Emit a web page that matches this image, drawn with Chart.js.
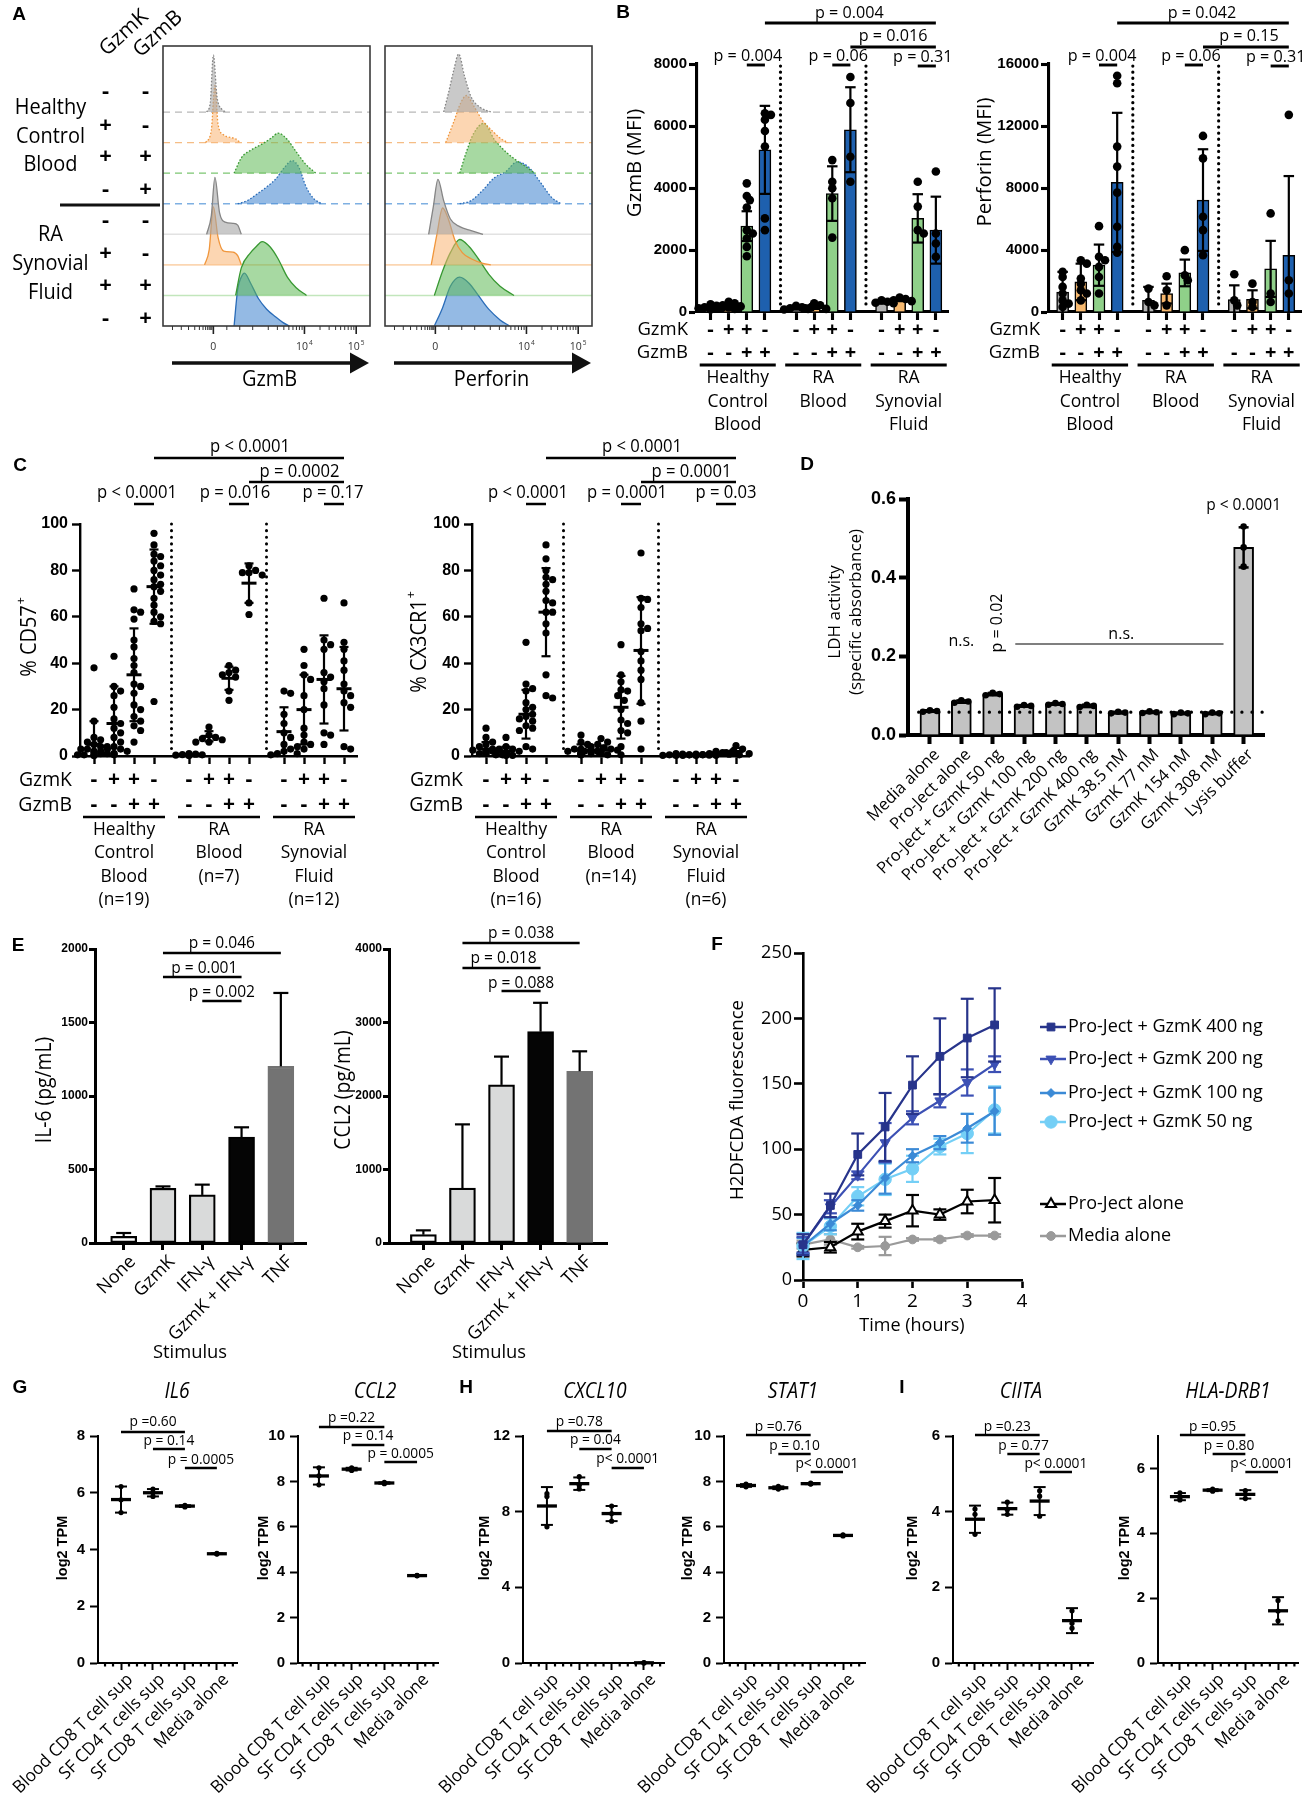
<!DOCTYPE html>
<html><head><meta charset="utf-8">
<script src="https://cdn.jsdelivr.net/npm/chart.js@4.4.1/dist/chart.umd.min.js"></script>
<style>
html,body{margin:0;padding:0;background:#fff}
body{position:relative;width:1307px;height:1800px;overflow:hidden}
canvas{position:absolute}
</style></head><body>
<script>
// ================= DATA =================
// ---- Panel A (flow histograms; x in display decades, h in row heights) ----
const A_GZMK = ['-','+','+','-','-','+','+','-'];
const A_GZMB = ['-','-','+','+','-','-','+','+'];
const A_COLS = ['GzmK','GzmB'];
const A_ROW_LABELS = [['Healthy','Control','Blood'],['RA','Synovial','Fluid']];
const A_AXES = ['GzmB','Perforin'];
const A_TICK_U = [2.24, 4, 5];
const A_TICK_LBL = [['0',''],['10','4'],['10','5']];
const A_GZMB_U = [
 [2.11,2.18,2.24,2.31,2.40,2.49],
 [2.09,2.20,2.27,2.33,2.44,2.67,2.76],
 [2.64,2.78,2.96,3.18,3.36,3.49,3.67,3.84,4.02,4.22],
 [2.71,2.89,3.11,3.27,3.44,3.62,3.76,3.89,4.02,4.16,4.33],
 [2.11,2.20,2.27,2.36,2.47,2.62,2.71,2.78],
 [2.07,2.16,2.24,2.33,2.44,2.62,2.71,2.78],
 [2.67,2.78,2.96,3.07,3.18,3.33,3.49,3.67,3.84,4.04],
 [2.64,2.71,2.78,2.84,2.96,3.11,3.27,3.44,3.58,3.71]];
const A_GZMB_H = [
 [0,0.3,1.86,0.5,0.1,0],
 [0,0.4,1.86,0.6,0.25,0.12,0],
 [0,0.5,0.75,0.95,1.15,1.31,1.1,0.7,0.3,0],
 [0,0.1,0.35,0.55,0.8,1.2,1.41,1.2,0.6,0.2,0],
 [0,0.6,1.86,0.7,0.4,0.36,0.3,0],
 [0,0.5,1.9,0.9,0.45,0.42,0.3,0],
 [0,0.9,1.4,1.6,1.76,1.6,1.2,0.6,0.25,0],
 [0,1.2,1.6,1.73,1.4,0.9,0.55,0.3,0.12,0]];
const A_PRF_U = [
 [2.40,2.49,2.60,2.69,2.80,2.93,3.11,3.31],
 [2.44,2.60,2.73,2.84,2.98,3.16,3.33,3.49,3.64],
 [2.71,2.84,2.98,3.18,3.38,3.60,3.82,4.00,4.16],
 [2.71,2.93,3.16,3.38,3.60,3.82,4.04,4.27,4.49,4.67],
 [2.11,2.20,2.29,2.40,2.53,2.71,2.93,3.16],
 [2.16,2.27,2.38,2.49,2.62,2.76,2.93,3.16,3.31],
 [2.22,2.38,2.53,2.71,2.89,3.07,3.27,3.49,3.76],
 [2.22,2.38,2.53,2.71,2.89,3.07,3.27,3.49,3.67]];
const A_PRF_H = [
 [0,0.6,1.4,1.9,1.2,0.5,0.15,0],
 [0,0.7,1.3,1.54,1.2,0.7,0.4,0.15,0],
 [0,0.7,1.3,1.63,1.1,0.7,0.4,0.2,0],
 [0,0.1,0.45,0.85,1.05,1.37,1.2,0.7,0.2,0],
 [0,0.9,1.8,1.1,0.5,0.25,0.12,0],
 [0,1.0,1.86,1.5,0.8,0.4,0.2,0.05,0],
 [0,0.8,1.4,1.83,1.6,1.2,0.7,0.3,0],
 [0,0.6,1.3,1.6,1.4,1.0,0.55,0.2,0]];

// ---- Panel B ----
const B_GROUPS = [['Healthy','Control','Blood'],['RA','Blood'],['RA','Synovial','Fluid']];
const GZMK_SIGNS = ['-','+','+','-'];
const GZMB_SIGNS = ['-','-','+','+'];
const ROW_NAMES = ['GzmK','GzmB'];
const B_GZMB_MEAN = [[150,200,2770,5230],[130,170,3820,5880],[330,400,3020,2640]];
const B_GZMB_SD = [[60,80,480,1420],[50,70,880,1370],[60,50,780,1080]];
const B_GZMB_PTS = [
 [[250,200,150,120,100,80,150],[330,280,220,180,150,120,100],[4150,3740,3610,3370,2640,2530,2370,2100,1800],[6410,6360,6200,5840,5340,3020,2640]],
 [[200,150,120,100,80],[280,220,150,120,100],[4900,4200,3990,3670,2400],[7580,6740,5010,4200]],
 [[380,330,300,280],[470,420,380,350],[4200,3400,2640,2530],[4530,2530,2210,1780]]];
const B_PRF_MEAN = [[1290,1940,3020,8360],[750,1190,2520,7220],[800,820,2780,3660]];
const B_PRF_SD = [[1300,1180,1330,4490],[870,640,860,3280],[920,580,1810,5110]];
const B_PRF_PTS = [
 [[2590,2260,1620,1190,750,540,320],[3340,3120,2160,1830,1400,1190,750],[5540,3560,3340,2910,2260,1190],[15240,14760,10670,9380,7700,5500,4200,3820]],
 [[1510,650,430],[2310,1400,430],[3990,2370,2050],[11360,9910,6140,5280,3660]],
 [[2440,750,430],[1830,650,320],[6360,1190,650],[12720,2050,1190]]];
const B_PAIRS = [[[0,3],[2,3]],[[1,3],[2,3]],[[0,2],[0,3]],[[1,2],[1,3]],[[2,2],[2,3]]];
const B_GZMB_PV = ['p = 0.004','p = 0.016','p = 0.004','p = 0.06','p = 0.31'];
const B_PRF_PV = ['p = 0.042','p = 0.15','p = 0.004','p = 0.06','p = 0.31'];

// ---- Panel C ----
const C_CD57_GROUPS = [['Healthy','Control','Blood','(n=19)'],['RA','Blood','(n=7)'],['RA','Synovial','Fluid','(n=12)']];
const C_CX_GROUPS = [['Healthy','Control','Blood','(n=16)'],['RA','Blood','(n=14)'],['RA','Synovial','Fluid','(n=6)']];
const C_CD57_PTS = [
 [[38,15,8,7,6,5,4,4,3,3,2,2,1,1,1,0.5,0.5,0.3,0.2],
  [43,30,28,26,21,16,14,12,10,8,6,4,3,3,2,2,1,1,0.5],
  [72,63,62,59,50,47,42,39,36,31,30,27,22,20,17,15,13,11,6],
  [96,91,87,86,84,82,80,78,76,74,73,71,68,65,62,60,58,57,23.5]],
 [[1,0.5,0.8,0.3,0.6,0.2,0.4],[12.5,9,8,7.5,7,6,6],[39,37,36,35,34,28,24],[82,80,79,79,78,66,61]],
 [[28,27,18,14,10,8,5,3,2,1,1,0.5],[46,39,35,33,26,20,12,9,6,4,3,5],[68,50,48,46,36,34,32,29,22,10,9,5],[66,49,46,41,37,31,28,26,23,21,4,3]]];
const C_CD57_MEAN = [[5,14,35,73],[0.5,8.5,33.5,74.5],[10.5,20,33,29]];
const C_CD57_SD = [[10,16,20,16],[0.3,2.2,5,8.5],[10.5,15,19,18]];
const C_CX_PTS = [
 [[12,8,6,5,4,3,3,2,2,1.5,1,1,0.5,0.5,2.5,1],
  [8,4,3,2.5,2,1.5,1.2,1,0.8,0.5,2,1.5,1,0.5,0.3,0.2],
  [49,31,29,28,23,21,18,17,15,13,12,11,4,3,16,20],
  [91,85,77,76,74,71,67,66,62,62,57,53,35,26,25,80]],
 [[9,6,5,3,3,2.5,2,2,1.5,1,1,0.5,0.5,1],
  [7.5,6,5,4,3.5,3,2.5,2,1.5,1,1,0.5,2,1.5],
  [48,35,32,28.5,28,24,20,14,11,10,4,0.5,26,15.5],
  [87.5,68,67.5,64,57,55,54,45,41,37,33,23,15,3]],
 [[1,0.5,0.3,0.8,0.2,0.5],[0.5,0.3,0.8,0.2,0.6,0.4],[2,1.5,1,0.5,0.8,0.3],[4.5,3,2,1.5,1,0.5]]];
const C_CX_MEAN = [[3,2,18,62],[2.5,2.5,21,45.5],[0.5,0.5,1,2]];
const C_CX_SD = [[3,2,10.5,19],[2.5,2,13.5,23],[0.3,0.2,0.6,1.5]];
const C_CD57_PV = ['p < 0.0001','p = 0.0002','p < 0.0001','p = 0.016','p = 0.17'];
const C_CX_PV = ['p < 0.0001','p = 0.0001','p < 0.0001','p = 0.0001','p = 0.03'];

// ---- Panel D ----
const D_CATS = ['Media alone','Pro-Ject alone','Pro-Ject + GzmK 50 ng','Pro-Ject + GzmK 100 ng','Pro-Ject + GzmK 200 ng','Pro-Ject + GzmK 400 ng','GzmK 38.5 nM','GzmK 77 nM','GzmK 154 nM','GzmK 308 nM','Lysis buffer'];
const D_MEAN = [0.061,0.085,0.104,0.074,0.079,0.074,0.057,0.058,0.055,0.055,0.477];
const D_SD = [0.002,0.003,0.003,0.002,0.002,0.003,0.002,0.002,0.002,0.002,0.051];
const D_PTS = [[0.059,0.061,0.063],[0.082,0.085,0.088],[0.101,0.104,0.107],[0.072,0.074,0.076],[0.077,0.079,0.081],[0.071,0.074,0.077],[0.055,0.057,0.059],[0.056,0.058,0.060],[0.053,0.055,0.057],[0.053,0.055,0.057],[0.428,0.477,0.530]];
const D_BASE = 0.058;
const D_TEXT = ['n.s.','p = 0.02','n.s.','p < 0.0001'];

// ---- Panel E ----
const E_CATS = ['None','GzmK','IFN-\u03b3','GzmK + IFN-\u03b3','TNF'];
const E_IL6 = [45,372,327,721,1202];
const E_IL6_ERR = [23,13,70,66,499];
const E_CCL2 = [113,746,2151,2875,2337];
const E_CCL2_ERR = [59,868,385,393,271];
const E_PAIRS = [[1,4],[1,3],[2,3]];
const E_IL6_PV = ['p = 0.046','p = 0.001','p = 0.002'];
const E_CCL2_PV = ['p = 0.038','p = 0.018','p = 0.088'];

// ---- Panel F ----
const F_T = [0,0.5,1,1.5,2,2.5,3,3.5];
const F_NAMES = ['Pro-Ject + GzmK 400 ng','Pro-Ject + GzmK 200 ng','Pro-Ject + GzmK 100 ng','Pro-Ject + GzmK 50 ng','Pro-Ject alone','Media alone'];
const F_400 = [27,57,96,117,149,171,185,195];
const F_400_SD = [8,9,16,26,22,29,30,28];
const F_200 = [27,56,80,105,124,137,151,165];
const F_200_SD = [6,5,3,15,5,5,10,6];
const F_100 = [26,43,57,78,95,105,116,129];
const F_100_SD = [6,5,4,12,5,5,11,18];
const F_50 = [26,41,64,77,85,102,112,130];
const F_50_SD = [10,6,7,12,10,6,15,18];
const F_PRO = [23,25,37,45,53,50,60,61];
const F_PRO_SD = [5,4,6,5,12,4,9,17];
const F_MED = [27,31,25,26,31,31,34,34];
const F_MED_SD = [3,4,1,7,1,1,1,1];

// ---- Panels G-I ----
const G_CATS = ['Blood CD8 T cell sup','SF CD4 T cells sup','SF CD8 T cells sup','Media alone'];
const G_PAIRS = [[0,2],[1,2],[2,3]];
const IL6_PTS = [[6.22,5.75,5.3],[6.13,6.0,5.87],[5.56,5.53,5.5],[3.86,3.85,3.84]];
const IL6_MEAN = [5.76,6.0,5.53,3.85], IL6_SD = [0.46,0.13,0.03,0.01];
const IL6_PV = ['p =0.60','p = 0.14','p = 0.0005'];
const CCL2_PTS = [[8.6,8.25,7.85],[8.6,8.55,8.48],[7.96,7.93,7.9],[3.86,3.85,3.84]];
const CCL2_MEAN = [8.24,8.54,7.93,3.85], CCL2_SD = [0.38,0.06,0.03,0.01];
const CCL2_PV = ['p =0.22','p = 0.14','p = 0.0005'];
const CXCL10_PTS = [[8.95,8.8,7.2],[9.85,9.4,9.2],[8.3,7.9,7.5],[0.02,0.0,0.01]];
const CXCL10_MEAN = [8.3,9.48,7.9,0.01], CXCL10_SD = [1.0,0.33,0.4,0.01];
const CXCL10_PV = ['p =0.78','p = 0.04','p< 0.0001'];
const STAT1_PTS = [[7.88,7.82,7.76],[7.78,7.72,7.66],[7.92,7.9,7.88],[5.64,5.62,5.6]];
const STAT1_MEAN = [7.82,7.72,7.9,5.62], STAT1_SD = [0.06,0.06,0.02,0.02];
const STAT1_PV = ['p =0.76','p = 0.10','p< 0.0001'];
const CIITA_PTS = [[4.07,3.93,3.4],[4.25,4.05,3.93],[4.55,4.41,3.88],[1.38,1.05,0.92]];
const CIITA_MEAN = [3.8,4.08,4.28,1.12], CIITA_SD = [0.36,0.16,0.37,0.33];
const CIITA_PV = ['p =0.23','p = 0.77','p< 0.0001'];
const HLA_PTS = [[5.25,5.1,5.03],[5.36,5.33,5.3],[5.32,5.2,5.07],[1.93,1.6,1.3]];
const HLA_MEAN = [5.13,5.33,5.2,1.61], HLA_SD = [0.11,0.03,0.13,0.42];
const HLA_PV = ['p =0.95','p = 0.80','p< 0.0001'];

// ================= STYLE / HELPERS =================
const MY = "'Open Sans', 'DejaVu Sans', sans-serif";
const AR = "'Liberation Sans', Arial, sans-serif";
const B_COLORS = ['#b3b3b3','#f6b86e','#8fd089','#1e60ae'];
const A_FILL = ['rgba(165,165,165,0.6)','rgba(250,180,115,0.55)','rgba(95,185,85,0.55)','rgba(60,130,205,0.55)'];
const A_EDGE = ['#858585','#f0963c','#389832','#2a6cb8'];
const A_BASE = ['#b8b8b8','#f5bd85','#7cc672','#7fb0e2'];
const A_BASE_RA = ['#e2e2e2','#fbd6b2','#c2e6bc'];
const plain = v => String(v);

function T(ctx, s, x, y, o) {
  o = o || {};
  ctx.save(); ctx.translate(x, y);
  if (o.rot) ctx.rotate(o.rot * Math.PI / 180);
  if (o.sx && o.sx !== 1) ctx.scale(o.sx, 1);
  ctx.font = (o.italic ? 'italic ' : '') + (o.w || 400) + ' ' + (o.size || 14) + 'px ' + (o.fam || MY);
  ctx.textAlign = o.align || 'center';
  ctx.textBaseline = o.base || 'middle';
  ctx.fillStyle = o.color || '#000';
  ctx.fillText(s, 0, 0);
  ctx.restore();
}
function Tsup(ctx, main, sup, x, y, o) {
  o = o || {};
  ctx.save(); ctx.translate(x, y);
  if (o.rot) ctx.rotate(o.rot * Math.PI / 180);
  if (o.sx && o.sx !== 1) ctx.scale(o.sx, 1);
  const f1 = (o.w || 400) + ' ' + o.size + 'px ' + (o.fam || MY);
  const f2 = (o.w || 400) + ' ' + (o.size * 0.62) + 'px ' + (o.fam || MY);
  ctx.font = f1; const w1 = ctx.measureText(main).width;
  ctx.font = f2; const w2 = sup ? ctx.measureText(sup).width + 1 : 0;
  const x0 = -(w1 + w2) / 2;
  ctx.textAlign = 'left'; ctx.textBaseline = 'middle'; ctx.fillStyle = o.color || '#000';
  ctx.font = f1; ctx.fillText(main, x0, 0);
  if (sup) { ctx.font = f2; ctx.fillText(sup, x0 + w1 + 1, -o.size * 0.4); }
  ctx.restore();
}
function L(ctx, x1, y1, x2, y2, w, col, dash, cap) {
  ctx.save(); ctx.beginPath(); ctx.lineWidth = w || 1; ctx.strokeStyle = col || '#000';
  ctx.setLineDash(dash || []); ctx.lineCap = cap || 'butt';
  ctx.moveTo(x1, y1); ctx.lineTo(x2, y2); ctx.stroke(); ctx.restore();
}
function letter(ctx, s, x, y) { T(ctx, s, x, y, { fam: AR, w: 700, size: 19 }); }

function swarmAll(ch) {
  ch.data.datasets.forEach((ds, di) => {
    if (!ds._sw) return;
    const d = ds._sw[0], minD = ds._sw[1];
    const meta = ch.getDatasetMeta(di);
    const groups = new Map();
    meta.data.forEach((el, i) => { const k = ds.data[i].x; if (!groups.has(k)) groups.set(k, []); groups.get(k).push(el); });
    groups.forEach(els => {
      const cx = els[0].x; const placed = [];
      els.slice().sort((a, b) => a.y - b.y).forEach(el => {
        let off = 0;
        for (let t = 0; t < 11; t++) {
          const cand = t === 0 ? 0 : (t % 2 ? 1 : -1) * Math.ceil(t / 2) * d;
          if (placed.every(p => Math.hypot(p.x - cand, p.y - el.y) >= minD)) { off = cand; break; }
        }
        el.x = cx + off; placed.push({ x: off, y: el.y });
      });
    });
  });
}

function mk(box, area, cfg, post, pre, dsPre) {
  const cv = document.createElement('canvas');
  cv.width = box[2]; cv.height = box[3];
  cv.style.left = box[0] + 'px'; cv.style.top = box[1] + 'px';
  cv.style.width = box[2] + 'px'; cv.style.height = box[3] + 'px';
  document.body.appendChild(cv);
  const o = cfg.options = cfg.options || {};
  o.responsive = false; o.animation = false; o.maintainAspectRatio = false; o.devicePixelRatio = 1;
  const pad = { left: area[0] - box[0], top: area[1] - box[1], right: box[0] + box[2] - area[2], bottom: box[1] + box[3] - area[3] };
  const lay = Object.assign({}, pad);
  for (const k in o.scales) {
    const s = o.scales[k];
    if (s.display === false) continue;
    if (k === 'x') lay.bottom = 0; else lay.left = 0;
    s.afterFit = sc => { if (sc.isHorizontal()) sc.height = pad.bottom; else sc.width = pad.left; };
  }
  o.layout = { autoPadding: false, padding: lay };
  o.plugins = { legend: { display: false }, tooltip: { enabled: false } };
  o.events = [];
  const wrap = fn => (ch, args) => {
    if (!fn) return;
    const ctx = ch.ctx; ctx.save(); ctx.translate(-box[0], -box[1]);
    const X = v => ch.scales.x.getPixelForValue(v) + box[0];
    const Y = v => ch.scales.y.getPixelForValue(v) + box[1];
    const A = { l: ch.chartArea.left + box[0], r: ch.chartArea.right + box[0], t: ch.chartArea.top + box[1], b: ch.chartArea.bottom + box[1] };
    fn(ctx, X, Y, A, ch, args); ctx.restore();
  };
  cfg.plugins = [{ id: 'deco', afterDatasetsUpdate: ch => swarmAll(ch), beforeDatasetsDraw: wrap(pre), beforeDatasetDraw: wrap(dsPre), afterDraw: wrap(post) }];
  return new Chart(cv, cfg);
}
function yLin(min, max, step, font, tl, bw, pad, tickExtra) {
  return { type: 'linear', min, max,
    ticks: Object.assign({ stepSize: step, font, color: '#000', padding: pad, callback: plain }, tickExtra || {}),
    grid: { drawOnChartArea: false, drawTicks: true, tickLength: tl, tickWidth: bw, tickColor: '#000' },
    border: { display: true, width: bw, color: '#000' } };
}
function xLin(min, max, at, tl, bw, tickExtra) {
  return { type: 'linear', min, max, offset: false,
    afterBuildTicks: s => { s.ticks = at.map(v => ({ value: v })); },
    ticks: Object.assign({ display: false }, tickExtra || {}),
    grid: { offset: false, drawOnChartArea: false, drawTicks: true, tickLength: tl, tickWidth: bw, tickColor: '#000' },
    border: { display: true, width: bw, color: '#000' } };
}
function errV(ctx, x, vTop, vBot, Y, cap, lw, col) {
  const yt = Y(vTop), yb = Y(Math.max(vBot, 0));
  L(ctx, x, yt, x, yb, lw, col);
  L(ctx, x - cap / 2, yt, x + cap / 2, yt, lw, col);
  if (vBot > 0) L(ctx, x - cap / 2, yb, x + cap / 2, yb, lw, col);
}

// ================= PANEL A =================
const A_MINOR = [1.45,1.62,1.76,1.88,1.97,2.04,2.09,2.13,2.16,2.19,2.21,2.5,2.75,3.0]
  .concat([2,3,4,5,6,7,8,9].map(m => 3 + Math.log10(m)), [2,3,4,5,6,7,8,9].map(m => 4 + Math.log10(m)));
function histChart(box, area, U, H, axisLabel, left) {
  const datasets = U.map((us, k) => ({
    type: 'line', data: us.map((u, i) => ({ x: u, y: (7 - k) + H[k][i] })),
    fill: { value: 7 - k }, backgroundColor: A_FILL[k % 4], borderColor: A_EDGE[k % 4],
    borderWidth: 1.3, borderDash: k < 4 ? [1.6, 1.8] : [], pointRadius: 0, tension: 0.4,
    cubicInterpolationMode: 'monotone', clip: false }));
  mk(box, area, { type: 'line', data: { datasets }, options: { scales: {
      x: { type: 'linear', min: 1.2667, max: 5.2667, display: false },
      y: { type: 'linear', min: 0, max: 9.16, display: false } } } },
    (ctx, X, Y, A) => {
      ctx.save(); ctx.strokeStyle = '#3a3a3a'; ctx.lineWidth = 1.6; ctx.strokeRect(A.l, A.t, A.r - A.l, A.b - A.t); ctx.restore();
      A_MINOR.forEach(u => L(ctx, X(u), A.b, X(u), A.b + 4, 1, '#333'));
      A_TICK_U.forEach(u => L(ctx, X(u), A.b, X(u), A.b + 8, 1.6, '#222'));
      A_TICK_LBL.forEach((t, i) => Tsup(ctx, t[0], t[1], X(A_TICK_U[i]), 347, { size: 10.5, color: '#333' }));
      L(ctx, A.l + 9, 363, A.r - 19, 363, 3.3, '#111');
      ctx.beginPath(); ctx.moveTo(A.r - 20, 352.5); ctx.lineTo(A.r - 1, 363); ctx.lineTo(A.r - 20, 373.5); ctx.closePath(); ctx.fillStyle = '#111'; ctx.fill();
      T(ctx, axisLabel, (A.l + A.r) / 2 + 3, 380, { size: 21, sx: 0.95 });
      if (left) {
        letter(ctx, 'A', 19, 15);
        T(ctx, A_COLS[0], 124, 33, { size: 21, sx: 1.0, rot: -42 });
        T(ctx, A_COLS[1], 158, 34, { size: 21, sx: 1.0, rot: -42 });
        const ry = [92,126,157,190,221,254,286,319];
        A_GZMK.forEach((s, k) => T(ctx, s, 105.5, ry[k], { w: 700, size: 22 }));
        A_GZMB.forEach((s, k) => T(ctx, s, 145.5, ry[k], { w: 700, size: 22 }));
        A_ROW_LABELS[0].forEach((s, j) => T(ctx, s, 50.5, [108,137,165][j], { size: 21, sx: 0.95 }));
        A_ROW_LABELS[1].forEach((s, j) => T(ctx, s, 50.5, [235,264,293][j], { size: 21, sx: 0.95 }));
        L(ctx, 60, 205, 160, 205, 3, '#111');
      }
    },
    (ctx, X, Y, A) => {
      for (let k = 0; k < 7; k++) {
        const y = Y(7 - k);
        if (k < 4) L(ctx, A.l, y, A.r, y, 1.3, A_BASE[k], [7, 5]);
        else L(ctx, A.l, y, A.r, y, 1.6, A_BASE_RA[k - 4]);
      }
    });
}
histChart([0, 0, 378, 400], [163, 46, 370, 326], A_GZMB_U, A_GZMB_H, A_AXES[0], true);
histChart([378, 0, 226, 400], [385, 46, 592, 326], A_PRF_U, A_PRF_H, A_AXES[1], false);

// ================= PANELS B & C (grouped) =================
function groupDeco(ctx, X, Y, A, o, pos) {
  for (let g = 0; g < 3; g++) {
    for (let i = 0; i < 4; i++) {
      T(ctx, GZMK_SIGNS[i], X(pos(g, i)), o.rowY[0], o.signF);
      T(ctx, GZMB_SIGNS[i], X(pos(g, i)), o.rowY[1], o.signF);
    }
    L(ctx, X(pos(g, 0) - o.ulExt), o.ulY, X(pos(g, 3) + o.ulExt), o.ulY, o.ulW, '#000');
    const xc = (X(pos(g, 0)) + X(pos(g, 3))) / 2;
    o.groups[g].forEach((s, j) => T(ctx, s, xc, o.lblY[j], o.lblF));
    if (g < 2) { const xs = (X(pos(g, 3)) + X(pos(g + 1, 0))) / 2; L(ctx, xs, o.sepY[0], xs, o.sepY[1], o.sepW, '#000', o.sepDash, 'round'); }
  }
  T(ctx, ROW_NAMES[0], o.rowLblX, o.rowY[0], Object.assign({ align: 'right' }, o.rowF));
  T(ctx, ROW_NAMES[1], o.rowLblX, o.rowY[1], Object.assign({ align: 'right' }, o.rowF));
  B_PAIRS.forEach((pr, j) => {
    const x1 = X(pos(pr[0][0], pr[0][1])), x2 = X(pos(pr[1][0], pr[1][1]));
    L(ctx, x1, o.pLineY[j], x2, o.pLineY[j], o.pLW, '#000');
    T(ctx, o.pv[j], (x1 + x2) / 2 + o.pDx[j], o.pTextY[j], o.pF);
  });
  if (o.sup) Tsup(ctx, o.title, o.sup, o.titleX, o.titleY, o.titleF); else T(ctx, o.title, o.titleX, o.titleY, o.titleF);
  if (o.letter) letter(ctx, o.letter[0], o.letter[1], o.letter[2]);
}
function grpChart(box, area, o) {
  const pos = (g, i) => g * o.gap + i;
  const xs = [], bars = [], pts = [];
  o.M.forEach((row, g) => row.forEach((v, i) => { xs.push(pos(g, i)); bars.push({ x: pos(g, i), y: v }); }));
  o.P.forEach((grp, g) => grp.forEach((col, i) => col.forEach(v => pts.push({ x: pos(g, i), y: v }))));
  const datasets = [{ type: 'scatter', data: pts, pointRadius: o.ptR, backgroundColor: '#000', borderWidth: 0, order: 1, _sw: o.sw, clip: false }];
  if (o.bars) datasets.push({ type: 'bar', data: bars, backgroundColor: o.M.flatMap(() => B_COLORS), borderColor: '#000', borderWidth: 1.5, barThickness: o.barW, order: 2 });
  const drawErr = (ctx, X, Y) => {
    o.M.forEach((row, g) => row.forEach((m, i) => {
      const x = X(pos(g, i)), s = o.S[g][i];
      if (o.bars) errV(ctx, x, m + s, m - s, Y, o.cap, 2.2, '#000');
      else {
        errV(ctx, x, m + s, m - s, Y, o.cap, 2.2, '#000');
        L(ctx, x - 7.5, Y(m), x + 7.5, Y(m), 3, '#000');
      }
    }));
  };
  mk(box, area, { type: 'scatter', data: { datasets }, options: { scales: {
      x: xLin(o.xmin, o.xmax, xs, o.xtl, o.aw),
      y: yLin(0, o.yMax, o.yStep, o.yFont, o.ytl, o.aw, o.yPad) } } },
    (ctx, X, Y, A) => { if (!o.bars) drawErr(ctx, X, Y); groupDeco(ctx, X, Y, A, o, pos); },
    null,
    (ctx, X, Y, A, ch, args) => { if (o.bars && args.index === 0) drawErr(ctx, X, Y); });
}
const B_COMMON = {
  bars: true, gap: 4.72, xmin: -0.75, xmax: 13.11, ptR: 4.3, sw: [3, 5], barW: 12, cap: 10.5, aw: 3.1, xtl: 8, ytl: 8, yPad: 2,
  yFont: { family: AR, weight: 'bold', size: 15 },
  rowY: [330, 353], signF: { w: 700, size: 20 }, rowF: { size: 18.5, sx: 1.0 },
  ulExt: 0.6, ulY: 365, ulW: 2.8, lblY: [378, 402, 425], lblF: { size: 19, sx: 0.92 },
  sepY: [66, 309], sepW: 3.2, sepDash: [0.1, 6], 
  pLineY: [23, 47, 65, 65, 66], pTextY: [13, 36, 56, 56, 57], pLW: 2.9, pF: { size: 17, sx: 0.95 },
  groups: B_GROUPS, titleF: { size: 20, rot: -90, sx: 1.02 } };
grpChart([600, 0, 360, 440], [697, 64, 948, 312], Object.assign({}, B_COMMON, {
  M: B_GZMB_MEAN, S: B_GZMB_SD, P: B_GZMB_PTS, yMax: 8000, yStep: 2000, rowLblX: 688,
  pv: B_GZMB_PV, pDx: [-1, 0, -8, -3, -4], title: 'GzmB (MFI)', titleX: 635, titleY: 163, letter: ['B', 623, 13] }));
grpChart([960, 0, 347, 440], [1049, 64, 1301, 312], Object.assign({}, B_COMMON, {
  M: B_PRF_MEAN, S: B_PRF_SD, P: B_PRF_PTS, yMax: 16000, yStep: 4000, rowLblX: 1040,
  pv: B_PRF_PV, pDx: [-1, 3, -6, -3, -4], title: 'Perforin (MFI)', titleX: 985, titleY: 162 }));

const C_COMMON = {
  bars: false, gap: 4.75, xmin: -0.7, xmax: 13.15, ptR: 3.6, sw: [3.3, 6.2], cap: 9, aw: 2.4, xtl: 8, ytl: 8, yPad: 4,
  yFont: { family: AR, weight: 'bold', size: 16 },
  rowY: [780, 805], signF: { w: 700, size: 21 }, rowF: { size: 20, sx: 0.97 },
  ulExt: 0.55, ulY: 817, ulW: 2.5, lblY: [830, 853, 877, 900], lblF: { size: 18.5, sx: 0.94 },
  sepY: [524, 752], sepW: 3, sepDash: [0.1, 6.5],
  pLineY: [458, 482, 504, 504, 504], pTextY: [447, 472, 493, 493, 493], pLW: 2.5, pF: { size: 17.5, sx: 0.95 },
  titleF: { size: 21, rot: -90, sx: 0.95 } };
grpChart([0, 430, 395, 490], [80, 524, 357, 756], Object.assign({}, C_COMMON, {
  M: C_CD57_MEAN, S: C_CD57_SD, P: C_CD57_PTS, yMax: 100, yStep: 20, rowLblX: 72, groups: C_CD57_GROUPS,
  pv: C_CD57_PV, pDx: [1, 3, -7, -4, -1], title: '% CD57', sup: '+', titleX: 30, titleY: 637, letter: ['C', 20, 466] }));
grpChart([395, 430, 390, 490], [472, 524, 749, 756], Object.assign({}, C_COMMON, {
  M: C_CX_MEAN, S: C_CX_SD, P: C_CX_PTS, yMax: 100, yStep: 20, rowLblX: 463, groups: C_CX_GROUPS,
  pv: C_CX_PV, pDx: [1, 3, -8, -4, 0], title: '% CX3CR1', sup: '+', titleX: 420, titleY: 642 }));

// ================= PANEL D =================
mk([780, 430, 527, 470], [908, 499, 1264, 735], { type: 'scatter', data: { datasets: [
    { type: 'scatter', data: D_PTS.flatMap((c, i) => c.map(v => ({ x: i, y: v }))), pointRadius: 3.3, backgroundColor: '#000', borderWidth: 0, order: 1, _sw: [3.5, 5.5], clip: false },
    { type: 'bar', data: D_MEAN.map((v, i) => ({ x: i, y: v })), backgroundColor: '#c3c3c3', borderColor: '#000', borderWidth: 2, barThickness: 20, order: 2 }] },
  options: { scales: {
    x: xLin(-0.7, 10.65, D_MEAN.map((v, i) => i), 9, 4),
    y: yLin(0, 0.6, 0.2, { family: AR, weight: 'bold', size: 18 }, 9, 4, 3, { callback: v => v.toFixed(1) }) } } },
  (ctx, X, Y, A) => {
    L(ctx, X(-0.36), Y(D_BASE), A.r, Y(D_BASE), 3.2, '#000', [0.1, 10], 'round');
    D_CATS.forEach((s, i) => T(ctx, s, X(i) + 7, A.b + 17, { size: 16.5, rot: -45, align: 'right' }));
    T(ctx, D_TEXT[0], X(1), 641, { size: 16 });
    T(ctx, D_TEXT[1], X(2) + 5, 623, { size: 16, rot: -90 });
    L(ctx, X(2.72), 644, X(9.36), 644, 1.2, '#000');
    T(ctx, D_TEXT[2], X(6.1), 634, { size: 16 });
    T(ctx, D_TEXT[3], X(10), 505, { size: 16, sx: 0.97 });
    T(ctx, 'LDH activity', 835.5, 612, { size: 17, rot: -90 });
    T(ctx, '(specific absorbance)', 856.5, 612, { size: 17, rot: -90 });
    letter(ctx, 'D', 807, 465);
  }, null,
  (ctx, X, Y, A, ch, args) => { if (args.index === 0) D_MEAN.forEach((m, i) => errV(ctx, X(i), m + D_SD[i], m - D_SD[i], Y, 10, 2.5, '#000')); });

// ================= PANEL E =================
const E_FILL = ['#ffffff','#d9dada','#d9dada','#050505','#737373'];
const E_EDGE = ['#000','#000','#000','#000','#737373'];
function eChart(box, area, xmin, xmax, M, ERR, yMax, yStep, o) {
  mk(box, area, { type: 'bar', data: { datasets: [
      { type: 'bar', data: M.map((v, i) => ({ x: i, y: v })), backgroundColor: E_FILL, borderColor: E_EDGE, borderWidth: 2.2, barThickness: 26, borderSkipped: false }] },
    options: { scales: { x: xLin(xmin, xmax, [0,1,2,3,4], 7, 3), y: yLin(0, yMax, yStep, { family: AR, weight: 'bold', size: 12 }, 6, 3, 1) } } },
    (ctx, X, Y, A) => {
      M.forEach((v, i) => { const x = X(i), y1 = Y(v), y2 = Y(v + ERR[i]); L(ctx, x, y1, x, y2, 2.2); L(ctx, x - 7.5, y2, x + 7.5, y2, 2.2); });
      E_CATS.forEach((s, i) => T(ctx, s, X(i) + 9, A.b + 16, { size: 18, sx: 1.0, rot: -45, align: 'right' }));
      T(ctx, 'Stimulus', o.stimX, 1353, { size: 18, sx: 1.02 });
      T(ctx, o.title, o.titleX, 1090, { size: 21, sx: 0.92, rot: -90 });
      E_PAIRS.forEach((pr, j) => {
        const x1 = X(pr[0]), x2 = X(pr[1]);
        L(ctx, x1, o.ly[j], x2, o.ly[j], 2.6, '#000');
        T(ctx, o.pv[j], (x1 + x2) / 2 + o.dx[j], o.ty[j], { size: 16.4, sx: 0.95 });
      });
      if (o.letter) letter(ctx, 'E', 18, 946);
    });
}
eChart([0, 905, 330, 480], [95, 949, 306, 1243], -0.73, 4.64, E_IL6, E_IL6_ERR, 2000, 500,
  { stimX: 190, title: 'IL-6 (pg/mL)', titleX: 45, pv: E_IL6_PV, ly: [953, 977, 1001], ty: [943, 968, 992], dx: [0, 2, 0], letter: true });
eChart([318, 905, 340, 480], [389, 949, 607, 1243], -0.88, 4.7, E_CCL2, E_CCL2_ERR, 4000, 1000,
  { stimX: 489, title: 'CCL2 (pg/mL)', titleX: 344, pv: E_CCL2_PV, ly: [943, 968, 991], ty: [933, 958, 983], dx: [0, 2, 0] });

// ================= PANEL F =================
const F_STY = [
  { c: '#27348b', ps: 'rect', r: 5.5, rot: 0, fill: '#27348b', bw: 1 },
  { c: '#3c50b4', ps: 'triangle', r: 5.8, rot: 180, fill: '#3c50b4', bw: 1 },
  { c: '#3b8ad6', ps: 'rectRot', r: 4.4, rot: 0, fill: '#3b8ad6', bw: 1 },
  { c: '#74cff6', ps: 'circle', r: 6.2, rot: 0, fill: '#74cff6', bw: 1 },
  { c: '#000000', ps: 'triangle', r: 5.8, rot: 0, fill: '#ffffff', bw: 2 },
  { c: '#9a9a9a', ps: 'circle', r: 4.4, rot: 0, fill: '#9a9a9a', bw: 1 }];
const F_Y = [F_400, F_200, F_100, F_50, F_PRO, F_MED];
const F_SD = [F_400_SD, F_200_SD, F_100_SD, F_50_SD, F_PRO_SD, F_MED_SD];
function marker(ctx, st, x, y) {
  const r = st.r;
  ctx.save(); ctx.translate(x, y); ctx.rotate(st.rot * Math.PI / 180); ctx.beginPath();
  if (st.ps === 'rect') { const s = r * Math.SQRT1_2; ctx.rect(-s, -s, 2 * s, 2 * s); }
  else if (st.ps === 'rectRot') { ctx.moveTo(-r, 0); ctx.lineTo(0, -r); ctx.lineTo(r, 0); ctx.lineTo(0, r); ctx.closePath(); }
  else if (st.ps === 'triangle') { ctx.moveTo(0, -r); ctx.lineTo(r * 0.866, r * 0.5); ctx.lineTo(-r * 0.866, r * 0.5); ctx.closePath(); }
  else ctx.arc(0, 0, r, 0, Math.PI * 2);
  ctx.fillStyle = st.fill; ctx.fill(); ctx.lineWidth = st.bw; ctx.strokeStyle = st.c; ctx.stroke();
  ctx.restore();
}
mk([700, 920, 607, 420], [803, 953, 1022, 1280], { type: 'line', data: { datasets: F_Y.map((ys, k) => ({
    type: 'line', data: F_T.map((t, i) => ({ x: t, y: ys[i] })), borderColor: F_STY[k].c, borderWidth: 2.2,
    pointStyle: F_STY[k].ps, pointRadius: F_STY[k].r, pointRotation: F_STY[k].rot,
    pointBackgroundColor: F_STY[k].fill, pointBorderColor: F_STY[k].c, pointBorderWidth: F_STY[k].bw, tension: 0, clip: false })) },
  options: { scales: {
    x: { type: 'linear', min: 0, max: 4, ticks: { stepSize: 1, font: { family: MY, size: 19 }, color: '#000', padding: 2 },
         grid: { drawOnChartArea: false, tickLength: 8, tickWidth: 2.6, tickColor: '#000' }, border: { width: 2.6, color: '#000' } },
    y: yLin(0, 250, 50, { family: MY, size: 18 }, 9, 2.6, 2) } } },
  (ctx, X, Y, A) => {
    T(ctx, 'H2DFCDA fluorescence', 738, 1100, { size: 19, rot: -90, sx: 0.98 });
    T(ctx, 'Time (hours)', 912, 1326, { size: 18, sx: 1.0 });
    const ly = [1027, 1059, 1093, 1122, 1204, 1236];
    F_NAMES.forEach((s, k) => {
      L(ctx, 1040, ly[k], 1066, ly[k], 2.5, F_STY[k].c);
      marker(ctx, F_STY[k], 1051, ly[k]);
      T(ctx, s, 1068, ly[k], { size: 18, sx: 1.0, align: 'left' });
    });
    letter(ctx, 'F', 717, 945);
  }, null,
  (ctx, X, Y, A, ch, args) => {
    const k = args.index;
    F_Y[k].forEach((v, i) => errV(ctx, X(F_T[i]), v + F_SD[k][i], v - F_SD[k][i], Y, 13, 2.2, F_STY[k].c));
  });

// ================= PANELS G-I =================
function gChart(box, area, xmin, xmax, yMax, yStep, P, M, S, o) {
  const pts = P.flatMap((c, i) => c.map(v => ({ x: i, y: v })));
  mk(box, area, { type: 'scatter', data: { datasets: [
      { type: 'scatter', data: pts, pointRadius: 2.6, backgroundColor: '#000', borderWidth: 0, clip: false }] },
    options: { scales: { x: xLin(xmin, xmax, [0,1,2,3], 7, 2),
      y: yLin(0, yMax, yStep, { family: AR, weight: 'bold', size: 15 }, 8, 2, 5, { includeBounds: false }) } } },
    (ctx, X, Y, A) => {
      for (let v = -0.5; v <= 3.51; v += 0.25) if (Math.abs(v - Math.round(v)) > 0.01) L(ctx, X(v), A.b, X(v), A.b + 3.5, 2.2, '#000');
      M.forEach((m, i) => { const x = X(i); errV(ctx, x, m + S[i], m - S[i], Y, 12, 2, '#000'); L(ctx, x - 10, Y(m), x + 10, Y(m), 3.3, '#000'); });
      G_CATS.forEach((s, i) => T(ctx, s, X(i) + 9, A.b + 14, { size: 17.5, sx: 0.97, rot: -45, align: 'right' }));
      T(ctx, o.title, o.titleX, 1392, { size: 21, sx: 0.92, italic: true });
      T(ctx, 'log2 TPM', o.ytX, 1548, { fam: AR, w: 700, size: 14.5, rot: -90 });
      G_PAIRS.forEach((pr, j) => {
        const x1 = X(pr[0]), x2 = X(pr[1]);
        L(ctx, x1, o.ly[j], x2, o.ly[j], 2.5, '#000');
        T(ctx, o.pv[j], (x1 + x2) / 2, o.ty[j], { size: 14.5, sx: 0.95 });
      });
      if (o.letter) letter(ctx, o.letter[0], o.letter[1], o.letter[2]);
    });
}
gChart([0, 1360, 250, 440], [98, 1436, 237, 1663], -0.72, 3.63, 8, 2, IL6_PTS, IL6_MEAN, IL6_SD,
  { title: 'IL6', titleX: 177, ytX: 63, pv: IL6_PV, ly: [1432, 1449, 1468], ty: [1422, 1441, 1460], letter: ['G', 20, 1388] });
gChart([185, 1360, 270, 440], [298, 1436, 438, 1663], -0.64, 3.64, 10, 2, CCL2_PTS, CCL2_MEAN, CCL2_SD,
  { title: 'CCL2', titleX: 375, ytX: 264, pv: CCL2_PV, ly: [1427, 1445, 1462], ty: [1418, 1436, 1454] });
gChart([405, 1360, 270, 440], [523, 1436, 664, 1663], -0.74, 3.62, 12, 4, CXCL10_PTS, CXCL10_MEAN, CXCL10_SD,
  { title: 'CXCL10', titleX: 595, ytX: 485, pv: CXCL10_PV, ly: [1431, 1449, 1468], ty: [1422, 1440, 1459], letter: ['H', 466, 1388] });
gChart([610, 1360, 270, 440], [724, 1436, 865, 1663], -0.68, 3.68, 10, 2, STAT1_PTS, STAT1_MEAN, STAT1_SD,
  { title: 'STAT1', titleX: 793, ytX: 688, pv: STAT1_PV, ly: [1435, 1454, 1472], ty: [1427, 1446, 1464] });
gChart([835, 1360, 270, 440], [953, 1436, 1093, 1663], -0.68, 3.65, 6, 2, CIITA_PTS, CIITA_MEAN, CIITA_SD,
  { title: 'CIITA', titleX: 1021, ytX: 913, pv: CIITA_PV, ly: [1435, 1454, 1472], ty: [1427, 1446, 1464], letter: ['I', 902, 1388] });
gChart([1040, 1360, 267, 440], [1158, 1436, 1298, 1663], -0.67, 3.61, 7, 2, HLA_PTS, HLA_MEAN, HLA_SD,
  { title: 'HLA-DRB1', titleX: 1228, ytX: 1125, pv: HLA_PV, ly: [1435, 1454, 1472], ty: [1427, 1446, 1464] });
</script>
</body></html>
